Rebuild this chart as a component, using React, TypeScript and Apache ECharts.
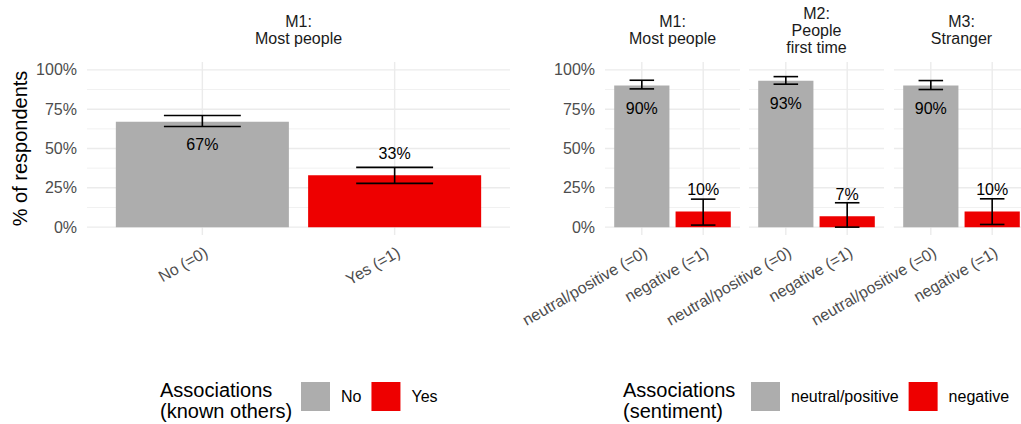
import React, { useEffect, useRef } from "react";
import * as echarts from "echarts";

const FONT = '"Liberation Sans", Arial, Helvetica, sans-serif';

// Left panel: associations with known others (M1)
const knownCategories = ["No (=0)", "Yes (=1)"];
const knownSeries = ["No", "Yes"];
const knownPct = [67, 33];
const knownLow = [64, 27.8];
const knownHigh = [71, 38];
const knownTitle = "M1:\nMost people";

// Right panel: sentiment of associations, one facet per measure
const facetTitles = ["M1:\nMost people", "M2:\nPeople\nfirst time", "M3:\nStranger"];
const sentimentCategories = ["neutral/positive (=0)", "negative (=1)"];
const sentimentSeries = ["neutral/positive", "negative"];
const neutralPct = [90, 93, 90];
const neutralLow = [87.9, 90.9, 87.5];
const neutralHigh = [93.4, 95.7, 93.2];
const negativePct = [10, 7, 10];
const negativeLow = [1.3, 0, 1.7];
const negativeHigh = [17.8, 15.5, 18];

// Axis ticks (percent)
const yTicks = [0, 25, 50, 75, 100];
const yMinorTicks = [12.5, 37.5, 62.5, 87.5];
const categoryPositions = [1, 2];

const GRAY = "#ADADAD";
const RED = "#EE0000";
const GRID_COLOR = "#EBEBEB";
const BAR_HALF = 0.45;
const CAP_HALF = 0.2;

// Panel rectangles (left block + three facets on the right)
const PANEL_TOP = 62;
const PANEL_HEIGHT = 173;
const panels = [
  { left: 87, width: 423 },
  { left: 605, width: 135 },
  { left: 749, width: 135 },
  { left: 894, width: 135 },
];

function hLineRender(width: number) {
  return (params: any, api: any) => {
    const cs = params.coordSys;
    const y = api.coord([1, api.value(1)])[1];
    return {
      type: "line",
      shape: { x1: cs.x, y1: y, x2: cs.x + cs.width, y2: y },
      style: { stroke: GRID_COLOR, lineWidth: width },
      silent: true,
    };
  };
}

function vLineRender(params: any, api: any) {
  const cs = params.coordSys;
  const x = api.coord([api.value(0), 0])[0];
  return {
    type: "line",
    shape: { x1: x, y1: cs.y, x2: x, y2: cs.y + cs.height },
    style: { stroke: GRID_COLOR, lineWidth: 1.4 },
    silent: true,
  };
}

function barRender(params: any, api: any) {
  const x = api.value(0) as number;
  const v = api.value(1) as number;
  const tl = api.coord([x - BAR_HALF, v]);
  const br = api.coord([x + BAR_HALF, 0]);
  const above = v < 50;
  return {
    type: "group",
    children: [
      {
        type: "rect",
        shape: { x: tl[0], y: tl[1], width: br[0] - tl[0], height: br[1] - tl[1] },
        style: { fill: api.visual("color") },
      },
      {
        type: "text",
        x: (tl[0] + br[0]) / 2,
        y: tl[1] + (above ? -22 : 23),
        z2: 20,
        style: {
          text: `${v}%`,
          fill: "#000",
          fontSize: 16,
          fontFamily: FONT,
          textAlign: "center",
          textVerticalAlign: "middle",
        },
      },
    ],
  };
}

function errorRender(params: any, api: any) {
  const x = api.value(0) as number;
  const lo = api.value(1) as number;
  const hi = api.value(2) as number;
  const pLo = api.coord([x, lo]);
  const pHi = api.coord([x, hi]);
  const xl = api.coord([x - CAP_HALF, lo])[0];
  const xr = api.coord([x + CAP_HALF, lo])[0];
  const style = { stroke: "#000", lineWidth: 1.6 };
  return {
    type: "group",
    children: [
      { type: "line", shape: { x1: pLo[0], y1: pLo[1], x2: pHi[0], y2: pHi[1] }, style },
      { type: "line", shape: { x1: xl, y1: pHi[1], x2: xr, y2: pHi[1] }, style },
      { type: "line", shape: { x1: xl, y1: pLo[1], x2: xr, y2: pLo[1] }, style },
    ],
  };
}

function gridSeries(i: number) {
  return [
    {
      type: "custom",
      xAxisIndex: i,
      yAxisIndex: i,
      z: 0,
      silent: true,
      renderItem: hLineRender(0.7),
      encode: { x: 0, y: 1 },
      data: yMinorTicks.map((v) => [1, v]),
    },
    {
      type: "custom",
      xAxisIndex: i,
      yAxisIndex: i,
      z: 0,
      silent: true,
      renderItem: hLineRender(1.4),
      encode: { x: 0, y: 1 },
      data: yTicks.map((v) => [1, v]),
    },
    {
      type: "custom",
      xAxisIndex: i,
      yAxisIndex: i,
      z: 0,
      silent: true,
      renderItem: vLineRender,
      encode: { x: 0, y: 1 },
      data: categoryPositions.map((p) => [p, 0]),
    },
  ];
}

function barSeries(i: number, name: string, color: string, pos: number, value: number) {
  return {
    type: "custom",
    name,
    xAxisIndex: i,
    yAxisIndex: i,
    z: 2,
    itemStyle: { color },
    renderItem: barRender,
    encode: { x: 0, y: 1 },
    data: [[pos, value]],
  };
}

function errorSeries(i: number, lows: number[], highs: number[]) {
  return {
    type: "custom",
    xAxisIndex: i,
    yAxisIndex: i,
    z: 3,
    silent: true,
    renderItem: errorRender,
    encode: { x: 0, y: [1, 2] },
    data: categoryPositions.map((p, k) => [p, lows[k], highs[k]]),
  };
}

function buildOption() {
  const grids = panels.map((p) => ({
    left: p.left,
    width: p.width,
    top: PANEL_TOP,
    height: PANEL_HEIGHT,
    containLabel: false,
    outerBoundsMode: "none",
  }));

  const xAxes = panels.map((_, i) => {
    const cats = i === 0 ? knownCategories : sentimentCategories;
    return {
      type: "value",
      gridIndex: i,
      min: 0.4,
      max: 2.6,
      axisLine: { show: false },
      axisTick: { show: false },
      splitLine: { show: false },
      axisLabel: {
        customValues: categoryPositions,
        formatter: (v: number) => cats[Math.round(v) - 1] ?? "",
        rotate: 30,
        align: "right",
        verticalAlign: "top",
        margin: 9,
        fontSize: 16,
        fontFamily: FONT,
        color: "#4D4D4D",
      },
    };
  });

  const yAxes = panels.map((_, i) => ({
    type: "value",
    gridIndex: i,
    min: -5,
    max: 105,
    axisLine: { show: false },
    axisTick: { show: false },
    splitLine: { show: false },
    axisLabel: {
      show: i === 0 || i === 1,
      customValues: yTicks,
      formatter: "{value}%",
      margin: 10,
      fontSize: 16,
      fontFamily: FONT,
      color: "#4D4D4D",
    },
    ...(i === 0
      ? {
          name: "% of respondents",
          nameLocation: "middle",
          nameRotate: 90,
          nameGap: 57,
          nameTextStyle: { fontSize: 20, fontFamily: FONT, color: "#000" },
        }
      : {}),
  }));

  const series: any[] = [];
  panels.forEach((_, i) => series.push(...gridSeries(i)));
  series.push(barSeries(0, knownSeries[0], GRAY, 1, knownPct[0]));
  series.push(barSeries(0, knownSeries[1], RED, 2, knownPct[1]));
  series.push(errorSeries(0, knownLow, knownHigh));
  facetTitles.forEach((_, f) => {
    const i = f + 1;
    series.push(barSeries(i, sentimentSeries[0], GRAY, 1, neutralPct[f]));
    series.push(barSeries(i, sentimentSeries[1], RED, 2, negativePct[f]));
    series.push(errorSeries(i, [neutralLow[f], negativeLow[f]], [neutralHigh[f], negativeHigh[f]]));
  });

  const stripTitles = [knownTitle, ...facetTitles].map((t, i) => ({
    type: "text",
    x: panels[i].left + panels[i].width / 2,
    y: 30.3,
    silent: true,
    style: {
      text: t,
      fill: "#1A1A1A",
      fontSize: 16,
      fontFamily: FONT,
      lineHeight: 17,
      textAlign: "center",
      textVerticalAlign: "middle",
    },
  }));

  const legendText = {
    fontSize: 16,
    fontFamily: FONT,
    color: "#000",
    padding: [0, 0, 0, 6],
  };
  const legendCommon = {
    top: 382,
    orient: "horizontal",
    icon: "rect",
    itemWidth: 29,
    itemHeight: 29,
    itemGap: 10,
    padding: 0,
    selectedMode: false,
    textStyle: legendText,
  };

  const legendTitle = (x: number, text: string) => ({
    type: "text",
    x,
    y: 400.5,
    silent: true,
    style: {
      text,
      fill: "#000",
      fontSize: 20,
      fontFamily: FONT,
      lineHeight: 21.3,
      textAlign: "left",
      textVerticalAlign: "middle",
    },
  });

  return {
    animation: false,
    backgroundColor: "#FFFFFF",
    textStyle: { fontFamily: FONT },
    grid: grids,
    xAxis: xAxes,
    yAxis: yAxes,
    legend: [
      { ...legendCommon, left: 301, data: knownSeries },
      { ...legendCommon, left: 751, data: sentimentSeries },
    ],
    graphic: [
      ...stripTitles,
      legendTitle(160, "Associations\n(known others)"),
      legendTitle(623, "Associations\n(sentiment)"),
    ],
    series,
  };
}

export default function App() {
  const ref = useRef<HTMLDivElement>(null);
  useEffect(() => {
    if (!ref.current) return;
    const chart = echarts.init(ref.current, undefined, { renderer: "svg" });
    chart.setOption(buildOption() as any);
    return () => chart.dispose();
  }, []);
  return (
    <div
      ref={ref}
      style={{ position: "fixed", left: 0, top: 0, width: 1021, height: 424, background: "#fff" }}
    />
  );
}
